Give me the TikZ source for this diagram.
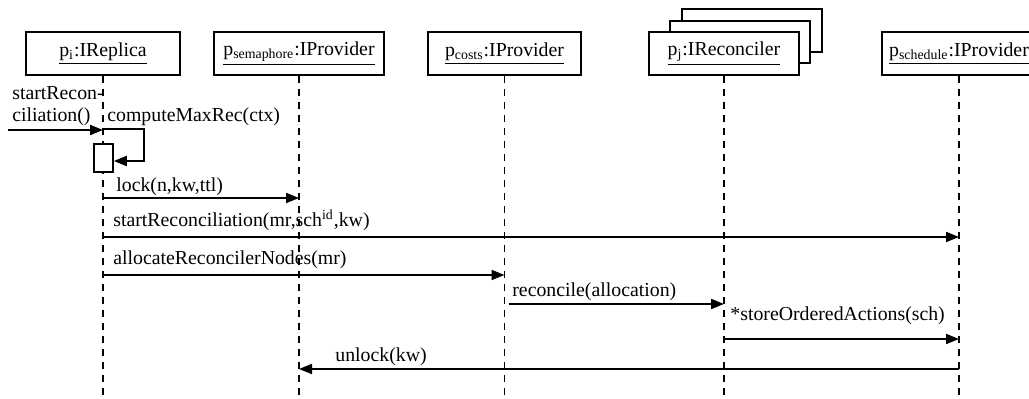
\documentclass[tikz,border=0pt]{standalone}
\usepackage{fontspec}
\setmainfont{Liberation Serif}
\usetikzlibrary{arrows.meta}
\tikzset{
  x=0.5pt, y=-0.5pt,
  txt/.style={font=\fontsize{9.9}{11}\selectfont, inner sep=0pt},
  obj/.style={draw, line width=0.9pt, fill=white, minimum height=21.5pt, inner sep=0pt, font=\fontsize{9.9}{11}\selectfont},
  shadowbox/.style={draw, line width=0.9pt, fill=white},
  lifeline/.style={line width=0.9pt, dash pattern=on 3.5pt off 3pt},
  msg/.style={line width=1pt, -{Triangle[length=6.5pt,width=5pt]}},
  lbl/.style={txt, anchor=base west},
}
\begin{document}
\begin{tikzpicture}
\useasboundingbox (0,0) rectangle (1029,399);
% stacked shadows of the reconciler box
\draw[shadowbox] (682,9) rectangle (822,52);
\draw[shadowbox] (670,21) rectangle (810,63);
% objects
\node[obj, minimum width=77pt] (pi) at (103,53.5) {\underline{p\textsubscript{i}:IReplica}};
\node[obj, minimum width=85pt] (sem) at (299,53.5) {\underline{p\textsubscript{semaphore}:IProvider}};
\node[obj, minimum width=76.5pt] (costs) at (504.5,53.5) {\underline{p\textsubscript{costs}:IProvider}};
\node[obj, minimum width=75pt] (pj) at (724,53.5) {\underline{p\textsubscript{j}:IReconciler}};
\node[obj, minimum width=77pt] (sched) at (959,53.5) {\underline{p\textsubscript{schedule}:IProvider}};
% lifelines
\coordinate (bot) at (0,399);
\draw[lifeline] (pi.south) -- (pi.south |- bot);
\draw[lifeline] (sem.south) -- (sem.south |- bot);
\draw[lifeline] (costs.south) -- (costs.south |- bot);
\draw[lifeline] (pj.south) -- (pj.south |- bot);
\draw[lifeline] (sched.south) -- (sched.south |- bot);
% activation
\node[draw, line width=0.9pt, fill=white, minimum width=9.5pt, minimum height=14pt, inner sep=0pt, anchor=north west] (act) at (93,143) {};
% incoming call
\coordinate (start) at (8,130);
\node[txt, align=left, anchor=base west] (startlbl) at (12,122) {startRecon-\\ciliation()};
\draw[msg] (start) -- (pi.south |- start);
% self call
\node[lbl] (cmlbl) at (107,122) {computeMaxRec(ctx)};
\draw[msg] (pi.south |- 0,129) -- (144,129) -- (144,161) -- (act.east |- 0,161);
% lock
\node[lbl] (locklbl) at (116,192) {lock(n,kw,ttl)};
\draw[msg] (pi.south |- 0,198) -- (sem.south |- 0,198);
% startReconciliation
\node[lbl] (srlbl) at (113,227) {startReconciliation(mr,sch\textsuperscript{id},kw)};
\draw[msg] (pi.south |- 0,237) -- (sched.south |- 0,237);
% allocate
\node[lbl] (allbl) at (113,265) {allocateReconcilerNodes(mr)};
\draw[msg] (pi.south |- 0,275) -- (costs.south |- 0,275);
% reconcile
\node[lbl] (reclbl) at (512,297) {reconcile(allocation)};
\draw[msg] ([xshift=2pt]costs.south |- 0,304) -- (pj.south |- 0,304);
% store
\node[lbl] (stlbl) at (730,321) {*storeOrderedActions(sch)};
\draw[msg] (pj.south |- 0,339) -- (sched.south |- 0,339);
% unlock
\node[lbl] (unlbl) at (335,362) {unlock(kw)};
\draw[msg] (sched.south |- 0,369) -- (sem.south |- 0,369);
\end{tikzpicture}
\end{document}
